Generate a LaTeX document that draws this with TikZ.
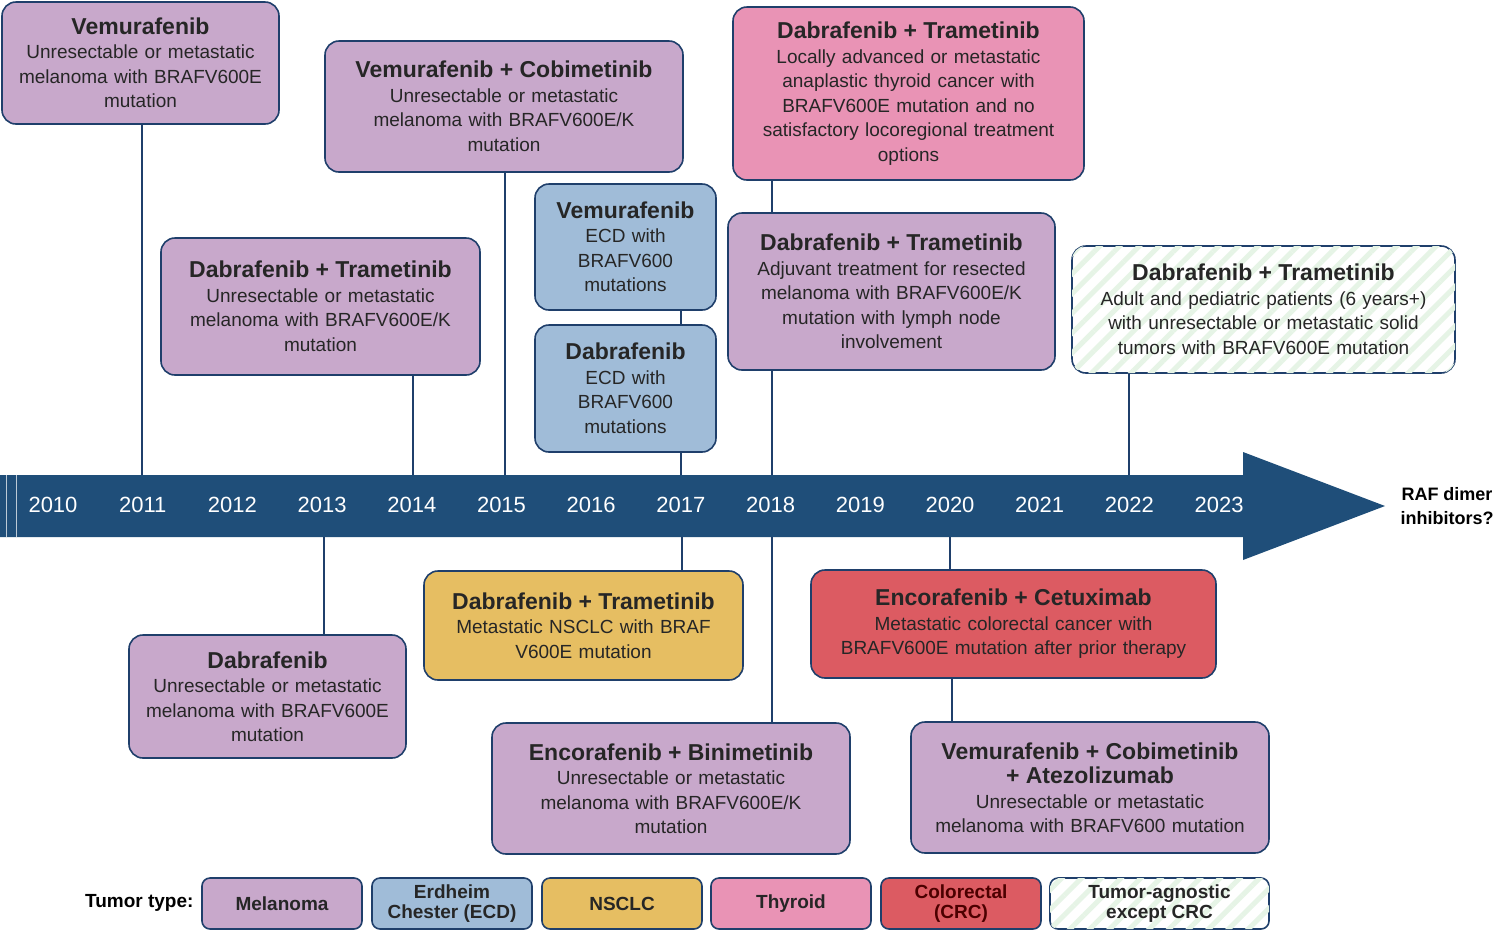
\documentclass[tikz,border=0pt]{standalone}
\usepackage{fontspec}
\setmainfont{Liberation Sans}
\usetikzlibrary{patterns.meta}
\definecolor{navy}{HTML}{1F3F6B}
\definecolor{bar}{HTML}{1F4E79}
\definecolor{mel}{HTML}{C8A8CB}
\definecolor{ecd}{HTML}{A0BCD8}
\definecolor{nsc}{HTML}{E6BE62}
\definecolor{thy}{HTML}{E993B5}
\definecolor{crc}{HTML}{DC5B62}
\definecolor{hat}{HTML}{E6F4E6}
\newcommand{\tit}[1]{{\fontsize{23}{27}\selectfont\bfseries #1}}
\tikzset{
  box/.style={draw=navy,line width=1.6pt,rounded corners=14pt,align=center,inner sep=2pt,
    font=\fontsize{19}{24.5}\selectfont,text=black!85},
  stem/.style={navy,line width=1.2pt},
  yr/.style={text=white,font=\fontsize{22}{24}\selectfont},
  leg/.style={draw=navy,line width=1.6pt,rounded corners=8pt,align=center,
    minimum width=160pt,minimum height=51pt,inner sep=0pt,font=\fontsize{19}{20}\selectfont\bfseries,text=black!85},
  agn/.style={fill=white,postaction={pattern={Lines[angle=45,distance=14pt,line width=5pt]},pattern color=hat}}
}
\newcommand{\bx}[6]{\node[box,fill=#5,minimum width={#3-#1},minimum height={#4-#2},text width={#3-#1-12}] (#6) at ({(#1+#3)/2},{(#2+#4)/2}) {};}
\begin{document}
\begin{tikzpicture}[x=1pt,y=-1pt]
\useasboundingbox (0,0) rectangle (1500,930);
% bar
\fill[bar] (0,475) -- (1243,475) -- (1243,452) -- (1385,506) -- (1243,560) -- (1243,537) -- (0,537) -- cycle;
\draw[white!70!bar,line width=1pt] (6,475) -- (6,537) (16,475) -- (16,537);
\foreach \y [count=\i from 0] in {2010,...,2023} \node[yr] (y\y) at ({53+89.7*\i},505) {\y};
\node[align=center,font=\fontsize{18}{24}\selectfont\bfseries] (raf) at (1447,506) {RAF dimer\\inhibitors?};
% stems
\coordinate (b1) at (142,475); \coordinate (b2) at (505,475); \coordinate (b3) at (413,475);
\coordinate (b5) at (681,475); \coordinate (b7) at (772,475); \coordinate (b8) at (1129,475);
\coordinate (c1) at (324,537); \coordinate (c2) at (682,537); \coordinate (c3) at (772,537); \coordinate (c4) at (950,537);
% boxes above
\node[box,fill=mel,minimum width=277,minimum height=122,text width=270] (v11) at (140.5,63) {\tit{Vemurafenib}\\Unresectable or metastatic\\melanoma with BRAFV600E\\mutation};
\node[box,fill=mel,minimum width=358,minimum height=131,text width=350] (vc15) at (504,106.5) {\tit{Vemurafenib + Cobimetinib}\\Unresectable or metastatic\\melanoma with BRAFV600E/K\\mutation};
\node[box,fill=mel,minimum width=319,minimum height=137,text width=312] (dt14) at (320.5,306.5) {\tit{Dabrafenib + Trametinib}\\Unresectable or metastatic\\melanoma with BRAFV600E/K\\mutation};
\node[box,fill=ecd,minimum width=181,minimum height=126,text width=175] (vecd) at (625.5,247) {\tit{Vemurafenib}\\ECD with\\BRAFV600\\mutations};
\node[box,fill=ecd,minimum width=181,minimum height=127,text width=175] (decd) at (625.5,388.5) {\tit{Dabrafenib}\\ECD with\\BRAFV600\\mutations};
\node[box,fill=thy,minimum width=351,minimum height=173,text width=344] (thyr) at (908.5,93.5) {\tit{Dabrafenib + Trametinib}\\Locally advanced or metastatic\\anaplastic thyroid cancer with\\BRAFV600E mutation and no\\satisfactory locoregional treatment\\options};
\node[box,fill=mel,minimum width=327,minimum height=157,text width=320] (adj) at (891.5,291.5) {\tit{Dabrafenib + Trametinib}\\Adjuvant treatment for resected\\melanoma with BRAFV600E/K\\mutation with lymph node\\involvement};
\node[box,agn,minimum width=383,minimum height=127,text width=376] (ag) at (1263.5,309.5) {\tit{Dabrafenib + Trametinib}\\Adult and pediatric patients (6 years+)\\with unresectable or metastatic solid\\tumors with BRAFV600E mutation};
% boxes below
\node[box,fill=mel,minimum width=277,minimum height=123,text width=270] (d13) at (267.5,696.5) {\tit{Dabrafenib}\\Unresectable or metastatic\\melanoma with BRAFV600E\\mutation};
\node[box,fill=nsc,minimum width=319,minimum height=109,text width=312] (ns) at (583.5,625.5) {\tit{Dabrafenib + Trametinib}\\Metastatic NSCLC with BRAF\\V600E mutation};
\node[box,fill=mel,minimum width=358,minimum height=131,text width=350] (eb) at (671,788.5) {\tit{Encorafenib + Binimetinib}\\Unresectable or metastatic\\melanoma with BRAFV600E/K\\mutation};
\node[box,fill=crc,minimum width=405,minimum height=108,text width=398] (ec) at (1013.5,624) {\tit{Encorafenib + Cetuximab}\\Metastatic colorectal cancer with\\BRAFV600E mutation after prior therapy};
\node[box,fill=mel,minimum width=358,minimum height=131,text width=352] (vca) at (1090,787.5) {\tit{Vemurafenib + Cobimetinib}\\\tit{+ Atezolizumab}\\Unresectable or metastatic\\melanoma with BRAFV600 mutation};
% stems
\draw[stem] (v11.south -| b1) -- (b1);
\draw[stem] (vc15.south -| b2) -- (b2);
\draw[stem] (dt14.south -| b3) -- (b3);
\draw[stem] (vecd.south -| b5) -- (decd.north -| b5);
\draw[stem] (decd.south -| b5) -- (b5);
\draw[stem] (thyr.south -| b7) -- (adj.north -| b7);
\draw[stem] (adj.south -| b7) -- (b7);
\draw[stem] (ag.south -| b8) -- (b8);
\draw[stem] (c1) -- (d13.north -| c1);
\draw[stem] (c2) -- (ns.north -| c2);
\draw[stem] (c3) -- (eb.north -| c3);
\draw[stem] (c4) -- (ec.north -| c4);
\draw[stem] (ec.south -| 952,0) -- (vca.north -| 952,0);
% legend
\node[anchor=east,font=\fontsize{19}{20}\selectfont\bfseries] (tt) at (197,903) {Tumor type:};
\node[leg,fill=mel] (l1) at (282,903.5) {Melanoma};
\node[leg,fill=ecd] (l2) at (452,903.5) {Erdheim\\Chester (ECD)};
\node[leg,fill=nsc] (l3) at (622,903.5) {NSCLC};
\node[leg,fill=thy] (l4) at (791,903.5) {Thyroid};
\node[leg,fill=crc,text=black!70!red] (l5) at (961,903.5) {Colorectal\\(CRC)};
\node[leg,agn,minimum width=219] (l6) at (1159.5,903.5) {Tumor-agnostic\\except CRC};
\end{tikzpicture}
\end{document}
